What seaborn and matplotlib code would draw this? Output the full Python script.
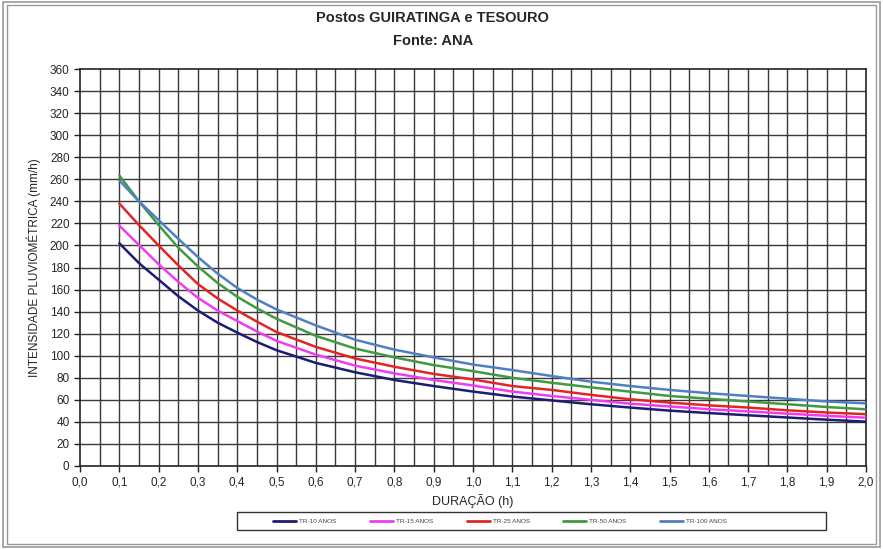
import numpy as np
import pandas as pd
import seaborn as sns
import matplotlib.pyplot as plt
from matplotlib.patches import Rectangle

# Duration (h) and rainfall intensity (mm/h)
duracao = [0.10, 0.15, 0.20, 0.25, 0.30, 0.35, 0.40, 0.45, 0.50, 0.60, 0.70, 0.80,
           0.90, 1.00, 1.10, 1.20, 1.30, 1.40, 1.50, 1.60, 1.70, 1.80, 1.90, 2.00]

tr10 = [202, 184, 169, 154, 141, 130, 121, 112.5, 105, 93.5, 85, 78,
        72.5, 67.5, 63, 59.5, 56, 53, 50.2, 48, 46, 44, 42, 40.2]
tr15 = [218, 200.5, 183, 167, 152.5, 141, 131.5, 122, 113.5, 101, 91, 84,
        78, 73, 67.5, 63.5, 60, 56.5, 54, 51.5, 49.5, 47.5, 45.5, 43.8]
tr25 = [238, 218.5, 200, 182, 165, 152, 141, 131, 121.5, 108, 97.5, 90,
        83.5, 78.5, 72.5, 69, 64.5, 60.5, 57.5, 55, 53, 50.5, 48.5, 47]
tr50 = [263.5, 240, 218.5, 198, 181, 166, 153.5, 143, 133.5, 118, 106.5, 98.5,
        91.5, 86, 80, 75.5, 71.3, 67.4, 63.5, 61, 58.5, 56, 53.5, 51.4]
tr100 = [259, 240, 223, 206, 189.5, 174.5, 161.5, 151, 142, 127.5, 114.5, 105.5,
         98.5, 92, 87, 81.6, 76.5, 72.5, 69, 66, 63.5, 61, 58.5, 56.8]

series_names = ["TR-10 ANOS", "TR-15 ANOS", "TR-25 ANOS", "TR-50 ANOS", "TR-100 ANOS"]
series_colors = ["#1c1c72", "#f03cf0", "#e42424", "#3f9a42", "#4f7fc4"]

x_ticks = np.round(np.arange(0, 2.01, 0.1), 1)
x_labels = [f"{v:.1f}".replace(".", ",") for v in x_ticks]
y_ticks = list(range(0, 361, 20))

# long-form table for seaborn
frames = []
for name, vals in zip(series_names, [tr10, tr15, tr25, tr50, tr100]):
    frames.append(pd.DataFrame({"duracao": duracao, "intensidade": vals, "serie": name}))
df = pd.concat(frames, ignore_index=True)

sns.set_style("white")
plt.rcParams["font.family"] = ["Liberation Sans", "DejaVu Sans"]

fig = plt.figure(figsize=(8.83, 5.49), dpi=100)
ax = fig.add_axes([80 / 883, 1 - 466 / 549, 786 / 883, 397 / 549])

# grid: every 0.05 h and every 20 mm/h
for xv in np.arange(0.05, 2.0, 0.05):
    ax.axvline(xv, color="#3a3a3a", lw=1.0, zorder=0)
for yv in range(20, 360, 20):
    ax.axhline(yv, color="#3a3a3a", lw=1.0, zorder=0)

sns.lineplot(data=df, x="duracao", y="intensidade", hue="serie",
             palette=dict(zip(series_names, series_colors)),
             linewidth=1.8, ax=ax, legend=False, zorder=3)

ax.set_xlim(0, 2.0)
ax.set_ylim(0, 360)
ax.set_xticks(x_ticks)
ax.set_xticklabels(x_labels)
ax.set_yticks(y_ticks)
ax.tick_params(axis="both", direction="out", length=4, width=1, labelsize=8.5,
               color="#222222", bottom=True, left=True)
for s in ax.spines.values():
    s.set_color("#222222")
    s.set_linewidth(1.2)

ax.set_xlabel("DURAÇÃO (h)", fontsize=9)
ax.set_ylabel("INTENSIDADE PLUVIOMÉTRICA (mm/h)", fontsize=8.5, labelpad=6)

fig.text(0.49, 1 - 18 / 549, "Postos GUIRATINGA e TESOURO", ha="center", va="center",
         fontsize=10.5, fontweight="bold")
fig.text(0.49, 1 - 41 / 549, "Fonte: ANA", ha="center", va="center",
         fontsize=10.5, fontweight="bold")

# legend: box drawn separately, entries spaced like the original
fig.patches.append(Rectangle((237 / 883, 1 - 530 / 549), 589 / 883, 18 / 549,
                             transform=fig.transFigure, fill=False,
                             edgecolor="#333333", lw=1.0))
handles = [plt.Line2D([], [], color=c, lw=2) for c in series_colors]
leg = fig.legend(handles, series_names, loc="center", ncol=5,
                 bbox_to_anchor=(500 / 883, 1 - 521 / 549),
                 fontsize=4.6, frameon=False, handlelength=3.6,
                 handletextpad=0.5, columnspacing=5.2)
for t in leg.get_texts():
    t.set_color("#444444")

# outer double frame
fig.patches.append(Rectangle((3 / 883, 2 / 549), 877 / 883, 545 / 549, transform=fig.transFigure,
                             fill=False, edgecolor="#9a9a9a", lw=1.2))
fig.patches.append(Rectangle((7 / 883, 5 / 549), 869 / 883, 539 / 549, transform=fig.transFigure,
                             fill=False, edgecolor="#9a9a9a", lw=1.0))

fig.savefig("out.png", dpi=100)
